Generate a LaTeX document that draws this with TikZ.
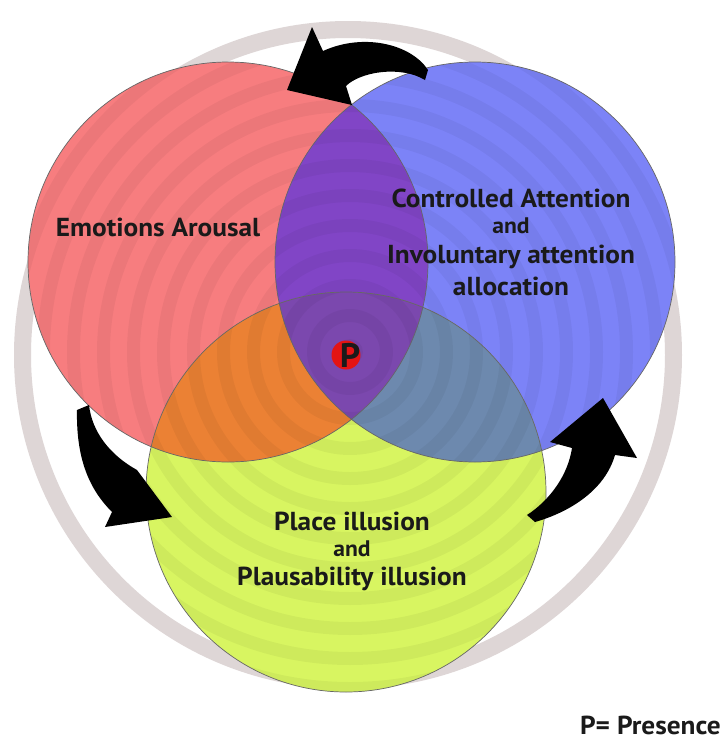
\documentclass[tikz,border=0pt]{standalone}
\usepackage{fontspec}
\setmainfont{PT Sans}[FakeStretch=1.05]
\definecolor{redc}{HTML}{F77D7F}
\definecolor{bluec}{HTML}{7C83F7}
\definecolor{yelc}{HTML}{D8F561}
\definecolor{rbc}{HTML}{8145C6}
\definecolor{ryc}{HTML}{EB8134}
\definecolor{byc}{HTML}{6D89AE}
\definecolor{allc}{HTML}{7B48AE}
\definecolor{ringgray}{HTML}{DED6D6}
\definecolor{pred}{HTML}{E41414}
\definecolor{txt}{HTML}{1A1A1A}
\begin{document}
\begin{tikzpicture}[x=1pt,y=-1pt,
  lab/.style={font=\bfseries\fontsize{26}{30}\selectfont, text=txt, align=center, inner sep=0pt},
  andlab/.style={font=\bfseries\fontsize{22.5}{26}\selectfont, text=txt, inner sep=0pt},
  arrowfill/.style={fill=black},
  circ/.style={draw=black!60, line width=0.7pt}]
\useasboundingbox (0,0) rectangle (724,740);
\fill[white] (0,0) rectangle (724,740);
\coordinate (C) at (348,355);
\coordinate (S) at (350,352);
\fill[ringgray, even odd rule] (C) circle (334) (C) circle (317);
\coordinate (cR) at (228,262);
\coordinate (cB) at (475,262);
\coordinate (cY) at (346,492);
\fill[redc] (cR) circle (200);
\fill[bluec] (cB) circle (200);
\fill[yelc] (cY) circle (200);
\begin{scope}
  \clip (cR) circle (200);
  \fill[rbc] (cB) circle (200);
  \fill[ryc] (cY) circle (200);
\end{scope}
\begin{scope}
  \clip (cB) circle (200);
  \fill[byc] (cY) circle (200);
\end{scope}
\begin{scope}
  \clip (cR) circle (200);
  \clip (cB) circle (200);
  \fill[allc] (cY) circle (200);
\end{scope}
\begin{scope}
  \clip (cR) circle (200) (cB) circle (200) (cY) circle (200);
  \foreach \r [evaluate=\r as \rb using \r+13] in {0,30,...,570} {
    \fill[black, opacity=0.045, even odd rule] (S) circle (\rb) (S) circle (\r);
  }
\end{scope}
\draw[circ] (cR) circle (200);
\draw[circ] (cB) circle (200);
\draw[circ] (cY) circle (200);
% arrows
\fill[arrowfill] (428,70) .. controls (412,45) and (365,32) .. (323,51) -- (312,27) -- (287,90) -- (352,105) -- (346,86) .. controls (360,72) and (400,65) .. (425,80) -- cycle;
\fill[arrowfill] (77,410) -- (89,405) .. controls (92,432) and (110,455) .. (137,470) -- (172,517) -- (105,527) -- (112,512) .. controls (90,490) and (76,460) .. (77,410) -- cycle;
\fill[arrowfill] (535,522) .. controls (570,512) and (605,490) .. (615,455) -- (637,458) -- (603,398) -- (550,442) -- (572,448) .. controls (568,475) and (550,500) .. (527,515) -- cycle;
% texts
\node[lab] (emo) at (158,227) {Emotions Arousal};
\node[lab] (ca) at (511,198) {Controlled Attention};
\node[andlab] (and1) at (511,226) {and};
\node[lab] (inv) at (511,257) {Involuntary attention};
\node[lab] (alloc) at (511,286) {allocation};
\node[lab] (place) at (352,521) {Place illusion};
\node[andlab] (and2) at (352,549) {and};
\node[lab] (plaus) at (352,579) {Plausability illusion};
\node[circle, fill=pred, minimum size=29pt, inner sep=0pt] (pdot) at (346,355) {};
\node[font=\bfseries\fontsize{34}{36}\selectfont, text=txt, inner sep=0pt] (P) at (350,355) {P};
\node[lab, anchor=east] (legend) at (721,725) {P= Presence};
\end{tikzpicture}
\end{document}
